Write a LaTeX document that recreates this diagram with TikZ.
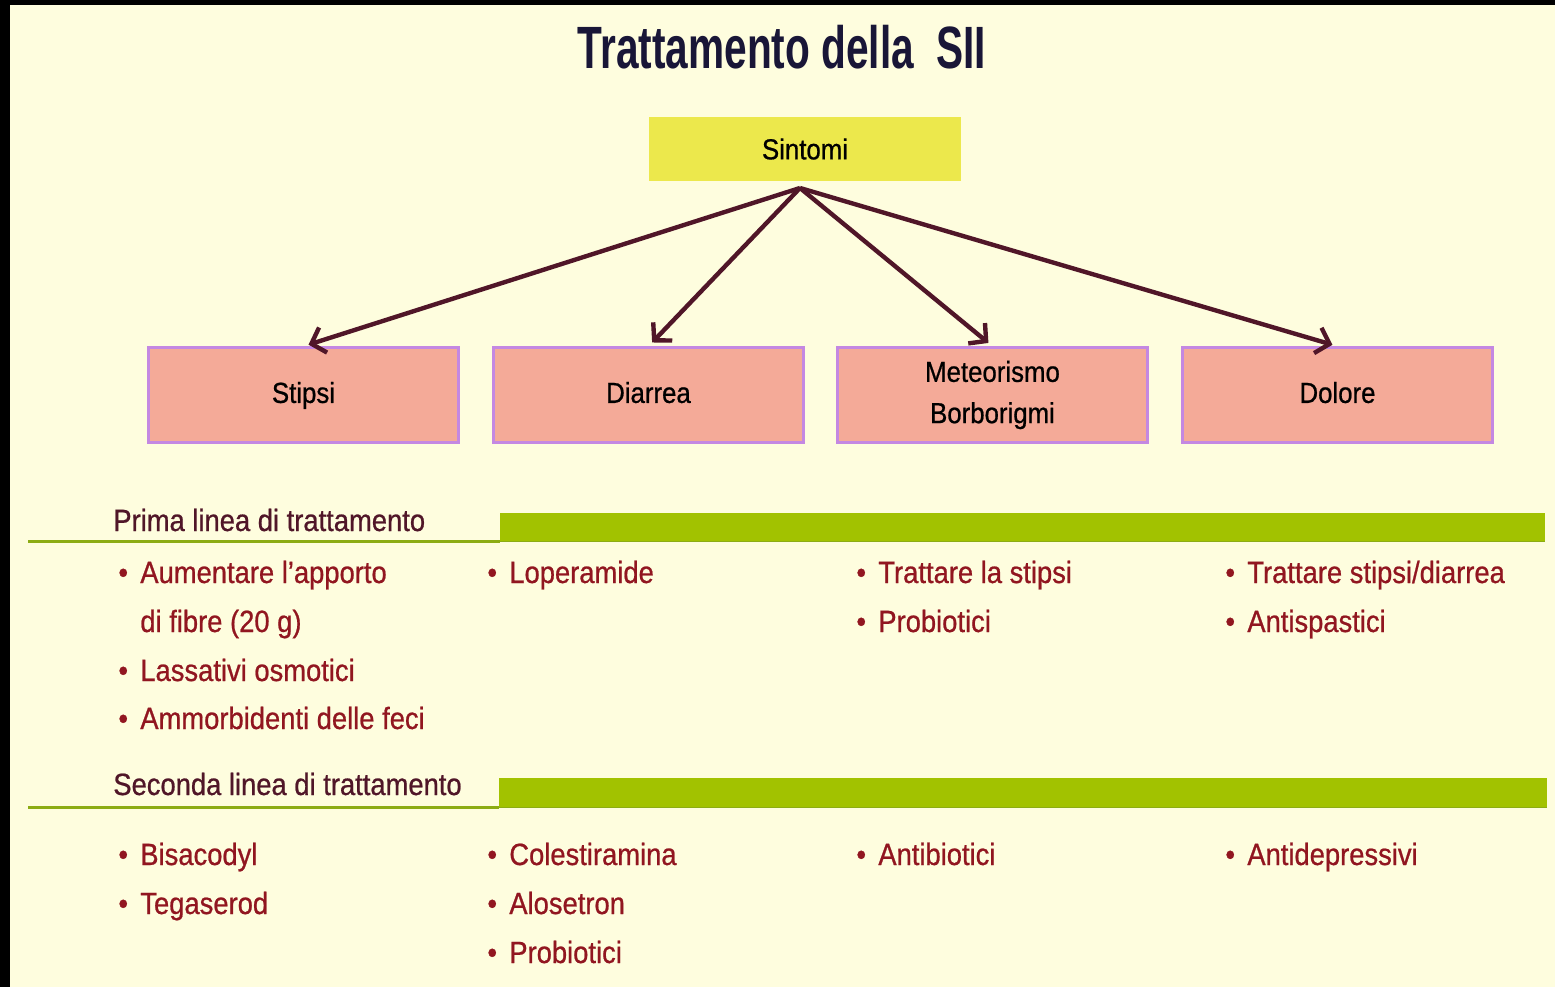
\documentclass[tikz,border=0pt]{standalone}
\usepackage{fontspec}
\setmainfont{Liberation Sans}[FakeStretch=0.89,FakeBold=0.7]
\newfontfamily\titlefont{Liberation Sans}[FakeStretch=0.68]
\usetikzlibrary{arrows.meta}

\definecolor{crema}{RGB}{254,253,222}
\definecolor{giallo}{RGB}{236,232,76}
\definecolor{salmone}{RGB}{244,170,152}
\definecolor{viola}{RGB}{196,136,226}
\definecolor{verde}{RGB}{162,194,0}
\definecolor{verdelinea}{RGB}{140,172,20}
\definecolor{rossoscuro}{RGB}{145,22,32}
\definecolor{marrone}{RGB}{80,22,40}
\definecolor{blunotte}{RGB}{25,22,55}

\newcommand{\pallino}{\llap{\textbullet\hspace{7pt}}}

\begin{document}
\begin{tikzpicture}[x=0.02cm,y=-0.02cm,
		sintomo/.style={draw=viola,line width=1.4pt,fill=salmone,minimum width=6.2cm,minimum height=1.9cm,
			align=center,font=\fontsize{16.5}{23.5}\selectfont},
		monoriga/.style={text height=12pt,text depth=3pt},
		voce/.style={anchor=base west,text=rossoscuro,inner sep=0pt,font=\fontsize{17.5}{20}\selectfont},
		titolino/.style={anchor=base west,text=marrone,inner sep=0pt,font=\fontsize{17.5}{20}\selectfont},
		freccia/.style={marrone,line width=2.5pt,-{Straight Barb[length=7pt,width=15pt]}}]
	\useasboundingbox (0,0) rectangle (1555,987);
	\fill [crema] (0,0) rectangle (1555,987);
	\fill [black] (0,0) rectangle (10,987);
	\fill [black] (0,0) rectangle (1555,5);

	\node [anchor=base,text=blunotte,inner sep=0pt] (titolo) at (782,68)
		{\titlefont\bfseries\fontsize{34}{40}\selectfont Trattamento della\ \ SII};

	\node [fill=giallo,minimum width=6.24cm,minimum height=1.28cm,font=\fontsize{16.5}{19}\selectfont]
		(sintomi) at (805,149) {Sintomi};
	\coordinate (vertice) at (800,188);

	\node [sintomo,monoriga] (stipsi) at (303.5,395) {Stipsi};
	\node [sintomo,monoriga] (diarrea) at (648.5,395) {Diarrea};
	\node [sintomo] (meteorismo) at (992.5,395) {Meteorismo\\Borborigmi};
	\node [sintomo,monoriga] (dolore) at (1337.5,395) {Dolore};

	\foreach \b in {stipsi, diarrea, meteorismo, dolore} {
		\draw [freccia,shorten >=3pt] (vertice) -- (\b.north);
	}

	% prima linea
	\node [titolino] (prima) at (113,531) {Prima linea di trattamento};
	\draw [verdelinea,line width=1.6pt] (28,541.5) -- (500,541.5);
	\fill [verde] (500,513) rectangle (1545,542);
	\draw [verdelinea,line width=1pt] (500,541.5) -- (1545,541.5);

	\node [voce] (p1-1) at (140,583) {\pallino Aumentare l'apporto};
	\node [voce] (p1-1b) at (140,632) {di fibre (20 g)};
	\node [voce] (p1-2) at (140,681) {\pallino Lassativi osmotici};
	\node [voce] (p1-3) at (140,729) {\pallino Ammorbidenti delle feci};
	\node [voce] (p2-1) at (509,583) {\pallino Loperamide};
	\foreach \testo [count=\i] in {Trattare la stipsi, Probiotici}
		\node [voce] (p3-\i) at (878,{583+49*(\i-1)}) {\pallino\testo};
	\foreach \testo [count=\i] in {Trattare stipsi/diarrea, Antispastici}
		\node [voce] (p4-\i) at (1247,{583+49*(\i-1)}) {\pallino\testo};

	% seconda linea
	\node [titolino] (seconda) at (113,795) {Seconda linea di trattamento};
	\draw [verdelinea,line width=1.6pt] (28,807.5) -- (499,807.5);
	\fill [verde] (499,778) rectangle (1547,808);
	\draw [verdelinea,line width=1pt] (499,807.5) -- (1547,807.5);

	\foreach \testo [count=\i] in {Bisacodyl, Tegaserod}
		\node [voce] (s1-\i) at (140,{865+49*(\i-1)}) {\pallino\testo};
	\foreach \testo [count=\i] in {Colestiramina, Alosetron, Probiotici}
		\node [voce] (s2-\i) at (509,{865+49*(\i-1)}) {\pallino\testo};
	\node [voce] (s3-1) at (878,865) {\pallino Antibiotici};
	\node [voce] (s4-1) at (1247,865) {\pallino Antidepressivi};
\end{tikzpicture}
\end{document}
